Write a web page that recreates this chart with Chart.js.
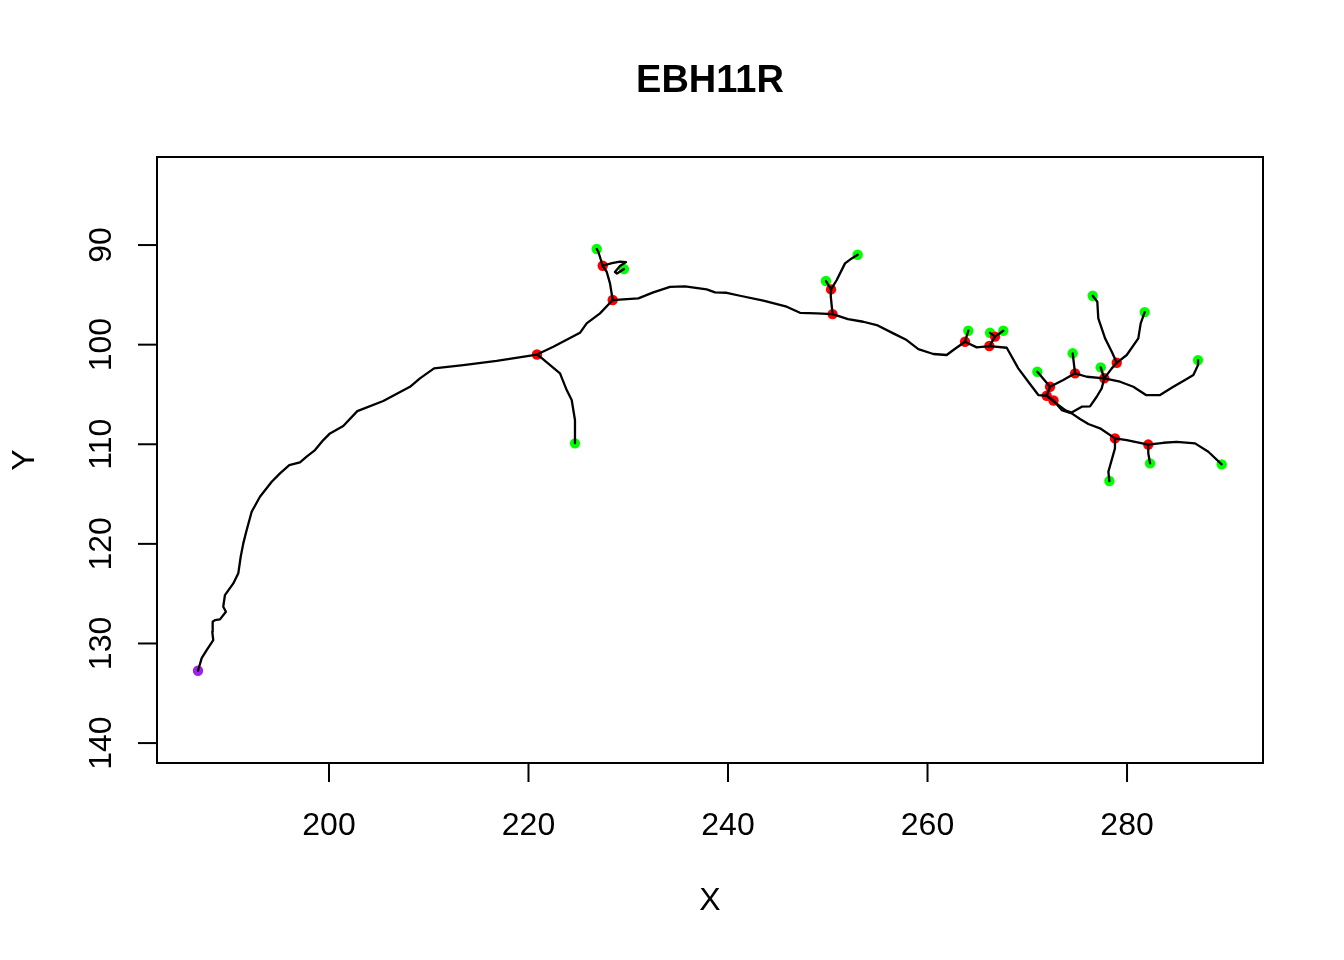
<!DOCTYPE html>
<html><head><meta charset="utf-8">
<script src="https://cdn.jsdelivr.net/npm/chart.js@4/dist/chart.umd.min.js"></script>
<style>html,body{margin:0;padding:0;background:#fff}canvas{display:block}</style>
</head><body>
<canvas id="c" width="1344" height="960"></canvas>
<script>
const chartTitle = 'EBH11R';
const xTitle = 'X';
const yTitle = 'Y';
const xTicks = [200, 220, 240, 260, 280];
const yTicks = [90, 100, 110, 120, 130, 140];

// traced paths [x, y]
const trunk = [
[186.87,132.74],[187.24,131.47],[187.74,130.66],[188.40,129.66],[188.30,128.82],[188.34,127.82],[188.57,127.65],[189.07,127.58],[189.67,126.82],[189.40,126.31],[189.57,125.14],[190.41,123.97],[190.91,122.96],[191.15,121.29],[191.41,119.95],[191.75,118.61],[192.25,116.78],[193.08,115.27],[194.26,113.76],[195.09,112.92],[196.02,112.09],[197.09,111.82],[197.76,111.25],[198.60,110.58],[199.43,109.58],[200.10,108.91],[201.43,108.17],[202.84,106.67],[205.44,105.66],[208.12,104.23],[209.12,103.38],[210.53,102.38],[213.46,102.05],[216.81,101.62],[220.85,100.99],[222.49,100.21],[225.16,98.81],[225.83,97.86],[227.17,96.86],[228.44,95.52],[229.50,95.45],[231.01,95.35],[232.51,94.75],[234.19,94.19],[235.69,94.15],[237.86,94.45],[238.70,94.75],[239.87,94.79],[241.20,95.09],[243.54,95.59],[245.88,96.19],[247.22,96.80],[248.89,96.86],[250.48,96.93],[252.03,97.43],[253.56,97.70],[254.91,98.03],[256.57,98.87],[257.91,99.54],[259.08,100.44],[260.58,100.94],[261.92,101.04],[262.59,100.54],[263.76,99.71],[264.93,100.27],[266.20,100.14],[267.94,100.31],[269.10,102.38],[270.10,103.72],[271.11,105.06],[271.95,105.13]
];
const br1 = [[220.85,100.99],[221.15,101.21],[223.16,102.88],[223.83,104.56],[224.33,105.56],[224.66,107.57],[224.66,109.91]];
const br2 = [[228.44,95.52],[228.17,93.85],[227.84,92.68],[227.44,92.08]];
const br3 = [[227.44,92.08],[227.00,90.67],[226.84,90.40]];
const br4 = [[227.44,92.08],[228.37,91.81],[229.17,91.66],[229.77,91.71],[229.17,92.11],[228.67,92.71],[228.87,92.86],[229.27,92.61],[229.57,92.41]];
const br5 = [[250.48,96.93],[250.30,95.12],[250.33,94.45]];
const br6 = [[250.33,94.45],[249.82,93.61]];
const br7 = [[250.33,94.45],[250.90,93.51],[251.73,91.84],[252.40,91.34],[253.00,90.97]];
const br8 = [[263.76,99.71],[264.09,98.60]];
const br9 = [[266.20,100.14],[266.77,99.19]];
const br10 = [[266.77,99.19],[266.27,98.81]];
const br11 = [[266.77,99.19],[267.60,98.60]];
const br12 = [[271.95,105.13],[272.28,104.23],[271.01,102.72]];
const br13 = [[272.28,104.23],[273.61,103.55],[274.79,102.88],[275.96,103.22],[277.72,103.38],[279.30,103.72],[280.63,104.23],[281.90,105.06],[283.31,105.06],[284.64,104.23],[285.81,103.55],[286.65,103.05],[287.12,102.05],[287.12,101.55]];
const br14 = [[274.79,102.88],[274.55,100.87]];
const br15 = [[277.72,103.38],[277.36,102.28]];
const br16 = [[277.72,103.38],[278.47,102.38],[278.97,101.82]];
const br17 = [[278.97,101.82],[278.47,100.71],[277.80,99.37],[277.12,97.36],[277.02,95.69],[276.56,95.09]];
const br18 = [[278.97,101.82],[279.97,101.04],[281.13,99.37],[281.37,97.86],[281.77,96.73]];
const br19 = [[271.95,105.13],[272.63,105.61],[273.45,106.57],[274.45,106.90],[275.29,107.47],[276.12,107.97],[277.29,108.40],[278.79,109.41]];
const br20 = [[271.95,105.13],[273.11,106.06],[273.88,106.62],[274.45,106.82],[275.46,106.23],[276.29,106.19],[276.96,105.23],[277.46,104.39],[277.72,103.38]];
const br21 = [[278.79,109.41],[279.97,109.58],[282.13,110.03],[283.64,109.85],[284.98,109.75],[286.82,109.91],[288.15,110.75],[289.49,112.02]];
const br22 = [[278.79,109.41],[278.79,110.41],[278.13,112.76],[278.23,113.69]];
const br23 = [[282.13,110.03],[282.13,110.91],[282.31,111.92]];

const rootPoints = [[186.87,132.74]];
const branchPoints = [[220.85,100.99],[228.44,95.52],[227.44,92.08],[250.48,96.93],[250.33,94.45],[263.76,99.71],[266.20,100.14],[266.77,99.19],[271.95,105.13],[272.28,104.23],[272.63,105.61],[274.79,102.88],[277.72,103.38],[278.97,101.82],[278.79,109.41],[282.13,110.03]];
const tipPoints = [[224.66,109.91],[226.84,90.40],[229.57,92.41],[249.82,93.61],[253.00,90.97],[264.09,98.60],[266.27,98.81],[267.60,98.60],[271.01,102.72],[274.55,100.87],[277.36,102.28],[276.56,95.09],[281.77,96.73],[287.12,101.55],[289.49,112.02],[278.23,113.69],[282.31,111.92]];

const segments = [trunk, br1, br2, br3, br4, br5, br6, br7, br8, br9, br10, br11, br12, br13, br14, br15, br16, br17, br18, br19, br20, br21, br22, br23];
const toXY = arr => arr.map(p => ({x: p[0], y: p[1]}));

const datasets = [];
segments.forEach(s => datasets.push({
  data: toXY(s), showLine: true, borderColor: '#000', borderWidth: 2.3,
  pointRadius: 0, pointHoverRadius: 0, tension: 0, fill: false,
  borderCapStyle: 'round', borderJoinStyle: 'round', order: 1
}));
function pointSet(arr, color) {
  return { data: toXY(arr), showLine: false, pointRadius: 5.2, pointHoverRadius: 5.2,
    pointBackgroundColor: color, pointBorderColor: color, pointBorderWidth: 0, order: 2 };
}
datasets.push(pointSet(branchPoints, '#FF0000'));
datasets.push(pointSet(tipPoints, '#00FF00'));
datasets.push(pointSet(rootPoints, '#A020F0'));

const FONT = '"Liberation Sans", Arial, Helvetica, sans-serif';
const axesPlugin = {
  id: 'rAxes',
  afterDraw(chart) {
    const {ctx, chartArea: a, scales: {x, y}} = chart;
    ctx.save();
    ctx.strokeStyle = '#000'; ctx.fillStyle = '#000'; ctx.lineWidth = 2; ctx.lineCap = 'butt';
    ctx.strokeRect(a.left, a.top, a.right - a.left, a.bottom - a.top);
    ctx.font = '32px ' + FONT;
    ctx.textAlign = 'center'; ctx.textBaseline = 'alphabetic';
    xTicks.forEach(v => {
      const px = x.getPixelForValue(v);
      ctx.beginPath(); ctx.moveTo(px, a.bottom); ctx.lineTo(px, a.bottom + 19); ctx.stroke();
      ctx.fillText(String(v), px, a.bottom + 72);
    });
    yTicks.forEach(v => {
      const py = y.getPixelForValue(v);
      ctx.beginPath(); ctx.moveTo(a.left, py); ctx.lineTo(a.left - 19, py); ctx.stroke();
      ctx.save(); ctx.translate(a.left - 46, py); ctx.rotate(-Math.PI / 2);
      ctx.fillText(String(v), 0, 0); ctx.restore();
    });
    ctx.fillText(xTitle, (a.left + a.right) / 2, a.bottom + 147);
    ctx.save(); ctx.translate(34, (a.top + a.bottom) / 2); ctx.rotate(-Math.PI / 2);
    ctx.fillText(yTitle, 0, 0); ctx.restore();
    ctx.font = 'bold 38px ' + FONT;
    ctx.fillText(chartTitle, (a.left + a.right) / 2, 92);
    ctx.restore();
  }
};

new Chart(document.getElementById('c'), {
  type: 'scatter',
  data: { datasets },
  options: {
    responsive: false, animation: false, devicePixelRatio: 1,
    layout: { padding: { left: 157, right: 81, top: 157, bottom: 197 } },
    plugins: { legend: { display: false }, title: { display: false }, tooltip: { enabled: false } },
    scales: {
      x: { type: 'linear', min: 182.76, max: 293.63, display: false },
      y: { type: 'linear', min: 81.16, max: 142.0, reverse: true, display: false }
    }
  },
  plugins: [axesPlugin]
});
</script>
</body></html>
